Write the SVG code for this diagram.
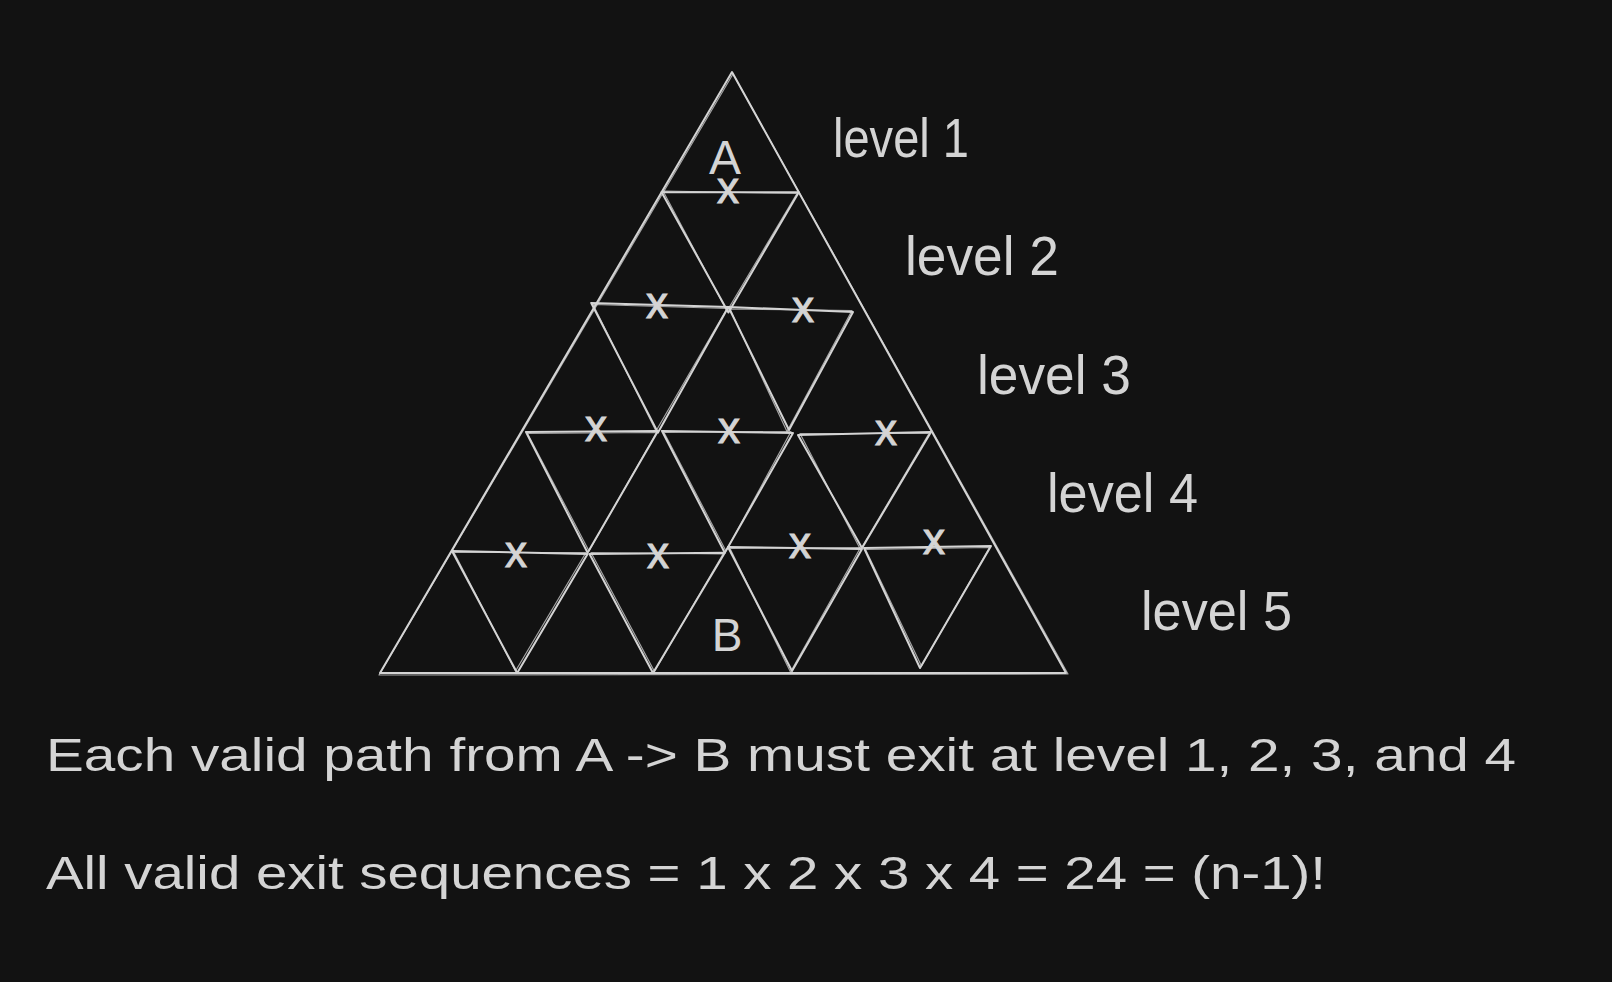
<svg xmlns="http://www.w3.org/2000/svg" width="1612" height="982" viewBox="0 0 1612 982">
<defs>
<style>
.ln{fill:none;stroke:#d4d4d4;stroke-width:2;stroke-linejoin:round;stroke-linecap:round}
.ln2{fill:none;stroke:#d4d4d4;stroke-width:1.2;stroke-linejoin:round;stroke-linecap:round;opacity:0.75}
.t{font-family:"Liberation Sans",Arial,sans-serif;fill:#d4d4d4}
.big{font-size:46px}
.lvl{font-size:56px}
.mk{font-size:44px;text-anchor:middle;stroke:#d4d4d4;stroke-width:1}
</style>
</defs>
<rect width="1612" height="982" fill="#121212"/>
<g id="connectors">
  <g id="outer">
    <path class="ln" d="M732,72 L1066,673 L380,673 Z"/>
    <path class="ln2" d="M733,74 L1068,674 L379,675 Z"/>
  </g>
  <g id="row2">
    <path class="ln" d="M661.6,192.2 L798.8,192.2 L728.4,312.4 Z"/>
    <path class="ln2" d="M663,191 L797,193.5 L727,311 Z"/>
  </g>
  <g id="row3">
    <path class="ln" d="M591.2,303 L728.4,307 L658,432.6 Z"/>
    <path class="ln2" d="M593,304.5 L727,308.5 L656,431 Z"/>
    <path class="ln" d="M728.4,307 L853,312 L789,430 Z"/>
    <path class="ln2" d="M730,309 L852,310.5 L787,431.5 Z"/>
  </g>
  <g id="row4">
    <path class="ln" d="M526,432 L658,431 L587.6,552.8 Z"/>
    <path class="ln2" d="M527.5,433.5 L656.5,432.5 L589,551 Z"/>
    <path class="ln" d="M662,431 L793,433 L724.8,552.8 Z"/>
    <path class="ln2" d="M664,432.5 L791,431.5 L726,551 Z"/>
    <path class="ln" d="M798,435 L931,432 L862,548 Z"/>
    <path class="ln2" d="M800,433.5 L929,433.5 L860.5,549.5 Z"/>
  </g>
  <g id="row5">
    <path class="ln" d="M452,551 L587.6,554 L517.2,673 Z"/>
    <path class="ln2" d="M454,552.5 L586,552.5 L515.5,671 Z"/>
    <path class="ln" d="M589.5,554 L724.8,552.8 L653,673 Z"/>
    <path class="ln2" d="M591,552.5 L723,554 L654.5,671.5 Z"/>
    <path class="ln" d="M728,547 L862,549 L792,671 Z"/>
    <path class="ln2" d="M730,548.5 L860.5,547.5 L790.5,672 Z"/>
    <path class="ln" d="M864,548 L991,546 L920,668 Z"/>
    <path class="ln2" d="M865.5,549.5 L989.5,547.5 L921.5,666 Z"/>
  </g>
</g>
<g id="marks">
  <text class="t mk" x="728" y="203">x</text>
  <text class="t mk" x="657" y="318">x</text>
  <text class="t mk" x="803" y="322">x</text>
  <text class="t mk" x="596" y="441">x</text>
  <text class="t mk" x="729" y="443">x</text>
  <text class="t mk" x="886" y="445">x</text>
  <text class="t mk" x="516" y="567">x</text>
  <text class="t mk" x="658" y="568">x</text>
  <text class="t mk" x="800" y="558">x</text>
  <text class="t mk" x="934" y="554">x</text>
</g>
<g id="node-A"><text class="t" x="725" y="174" font-size="48" text-anchor="middle">A</text></g>
<g id="node-B"><text class="t" x="727" y="651" font-size="46" text-anchor="middle">B</text></g>
<g id="label-level1"><text class="t lvl" x="833" y="157" textLength="136" lengthAdjust="spacingAndGlyphs">level 1</text></g>
<g id="label-level2"><text class="t lvl" x="905" y="275" textLength="154" lengthAdjust="spacingAndGlyphs">level 2</text></g>
<g id="label-level3"><text class="t lvl" x="977" y="394" textLength="154" lengthAdjust="spacingAndGlyphs">level 3</text></g>
<g id="label-level4"><text class="t lvl" x="1047" y="512" textLength="151" lengthAdjust="spacingAndGlyphs">level 4</text></g>
<g id="label-level5"><text class="t lvl" x="1141" y="630" textLength="151" lengthAdjust="spacingAndGlyphs">level 5</text></g>
<g id="caption1"><text class="t big" x="46" y="771" textLength="1470" lengthAdjust="spacingAndGlyphs">Each valid path from A -&gt; B must exit at level 1, 2, 3, and 4</text></g>
<g id="caption2"><text class="t big" x="46" y="889" textLength="1280" lengthAdjust="spacingAndGlyphs">All valid exit sequences = 1 x 2 x 3 x 4 = 24 = (n-1)!</text></g>
</svg>
